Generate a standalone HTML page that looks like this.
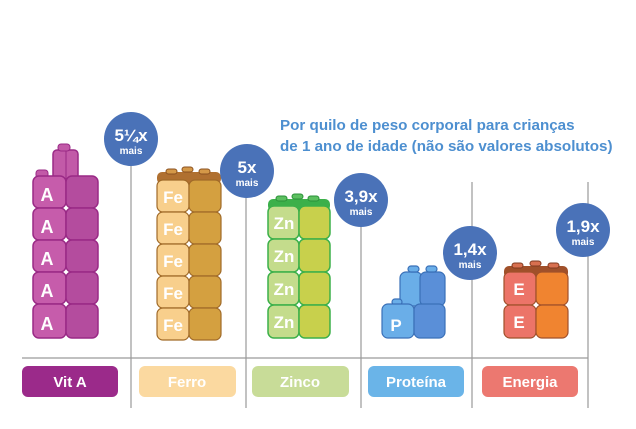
<!DOCTYPE html>
<html><head><meta charset="utf-8"><style>
html,body{margin:0;padding:0;background:#fff}
svg{display:block}
text{font-family:"Liberation Sans",sans-serif;font-weight:bold}
</style></head><body>
<svg width="636" height="429" viewBox="0 0 636 429" xmlns="http://www.w3.org/2000/svg">
<g stroke="#9a9a9a" stroke-width="1.2">
<line x1="22" y1="358" x2="588" y2="358"/>
<line x1="131" y1="165" x2="131" y2="408"/>
<line x1="246" y1="196" x2="246" y2="408"/>
<line x1="361" y1="224" x2="361" y2="408"/>
<line x1="472" y1="182" x2="472" y2="408"/>
<line x1="588" y1="182" x2="588" y2="408"/>
</g>
<g>
<rect x="53" y="150" width="25" height="30" rx="4" fill="#c25aa8" stroke="#9a2a86" stroke-width="1.5"/>
<line x1="66" y1="150" x2="66" y2="180" stroke="#9a2a86"/>
<rect x="58" y="144" width="12" height="7" rx="3" fill="#c25aa8" stroke="#9a2a86"/>
<rect x="36" y="170" width="12" height="8" rx="3" fill="#c25aa8" stroke="#9a2a86"/>
<g stroke="#9a2a86" stroke-width="1.5">
<rect x="33" y="176" width="33" height="32" rx="6" fill="#c65cab"/><rect x="66" y="176" width="32" height="32" rx="6" fill="#b44c9e"/>
<rect x="33" y="208" width="33" height="32" rx="6" fill="#c65cab"/><rect x="66" y="208" width="32" height="32" rx="6" fill="#b44c9e"/>
<rect x="33" y="240" width="33" height="32" rx="6" fill="#c65cab"/><rect x="66" y="240" width="32" height="32" rx="6" fill="#b44c9e"/>
<rect x="33" y="272" width="33" height="32" rx="6" fill="#c65cab"/><rect x="66" y="272" width="32" height="32" rx="6" fill="#b44c9e"/>
<rect x="33" y="304" width="33" height="34" rx="6" fill="#c65cab"/><rect x="66" y="304" width="32" height="34" rx="6" fill="#b44c9e"/>
</g>
<g fill="#fff" font-size="18" text-anchor="middle"><text x="47" y="201">A</text><text x="47" y="233">A</text><text x="47" y="265">A</text><text x="47" y="297">A</text><text x="47" y="330">A</text></g>
</g>
<g>
<rect x="157" y="172" width="64" height="12" rx="5" fill="#b07030"/>
<g fill="#d49848" stroke="#8a5020"><rect x="166" y="169" width="11" height="5" rx="2.5"/><rect x="182" y="167" width="11" height="5" rx="2.5"/><rect x="199" y="169" width="11" height="5" rx="2.5"/></g>
<g stroke="#a06a28" stroke-width="1.2">
<rect x="157" y="180" width="32" height="32" rx="6" fill="#f8cf8c"/><rect x="189" y="180" width="32" height="32" rx="6" fill="#d4a040"/>
<rect x="157" y="212" width="32" height="32" rx="6" fill="#f8cf8c"/><rect x="189" y="212" width="32" height="32" rx="6" fill="#d4a040"/>
<rect x="157" y="244" width="32" height="32" rx="6" fill="#f8cf8c"/><rect x="189" y="244" width="32" height="32" rx="6" fill="#d4a040"/>
<rect x="157" y="276" width="32" height="32" rx="6" fill="#f8cf8c"/><rect x="189" y="276" width="32" height="32" rx="6" fill="#d4a040"/>
<rect x="157" y="308" width="32" height="32" rx="6" fill="#f8cf8c"/><rect x="189" y="308" width="32" height="32" rx="6" fill="#d4a040"/>
</g>
<g fill="#fff" font-size="17" text-anchor="middle"><text x="173" y="203">Fe</text><text x="173" y="235">Fe</text><text x="173" y="267">Fe</text><text x="173" y="299">Fe</text><text x="173" y="331">Fe</text></g>
</g>
<g>
<rect x="268" y="199" width="62" height="12" rx="5" fill="#3cb04a"/>
<g fill="#5cc060" stroke="#2a9038"><rect x="276" y="196" width="11" height="5" rx="2.5"/><rect x="292" y="194" width="11" height="5" rx="2.5"/><rect x="308" y="196" width="11" height="5" rx="2.5"/></g>
<g stroke="#3cb04a" stroke-width="1.5">
<rect x="268" y="206" width="31" height="33" rx="6" fill="#c4dc8c"/><rect x="299" y="206" width="31" height="33" rx="6" fill="#c8d04c"/>
<rect x="268" y="239" width="31" height="33" rx="6" fill="#c4dc8c"/><rect x="299" y="239" width="31" height="33" rx="6" fill="#c8d04c"/>
<rect x="268" y="272" width="31" height="33" rx="6" fill="#c4dc8c"/><rect x="299" y="272" width="31" height="33" rx="6" fill="#c8d04c"/>
<rect x="268" y="305" width="31" height="33" rx="6" fill="#c4dc8c"/><rect x="299" y="305" width="31" height="33" rx="6" fill="#c8d04c"/>
</g>
<g fill="#fff" font-size="17" text-anchor="middle"><text x="284" y="229">Zn</text><text x="284" y="262">Zn</text><text x="284" y="295">Zn</text><text x="284" y="328">Zn</text></g>
</g>
<g stroke="#3a70b8" stroke-width="1.2">
<rect x="400" y="272" width="22" height="34" rx="6" fill="#6aaee8"/><rect x="420" y="272" width="25" height="34" rx="6" fill="#5a8fd8"/>
<rect x="408" y="266" width="11" height="6" rx="3" fill="#6aaee8"/><rect x="426" y="266" width="11" height="6" rx="3" fill="#6aaee8"/>
<rect x="392" y="299" width="10" height="6" rx="3" fill="#6aaee8"/>
<rect x="382" y="304" width="32" height="34" rx="6" fill="#6aaee8"/><rect x="414" y="304" width="31" height="34" rx="6" fill="#5a8fd8"/>
</g>
<text x="396" y="331" fill="#fff" font-size="17" text-anchor="middle">P</text>
<g>
<rect x="504" y="266" width="64" height="12" rx="5" fill="#a0502a"/>
<g fill="#d87050" stroke="#803a20"><rect x="512" y="263" width="11" height="5" rx="2.5"/><rect x="530" y="261" width="11" height="5" rx="2.5"/><rect x="548" y="263" width="11" height="5" rx="2.5"/></g>
<g stroke="#a0502a" stroke-width="1.2">
<rect x="504" y="272" width="32" height="33" rx="6" fill="#ec7468"/><rect x="536" y="272" width="32" height="33" rx="6" fill="#f08430"/>
<rect x="504" y="305" width="32" height="33" rx="6" fill="#ec7468"/><rect x="536" y="305" width="32" height="33" rx="6" fill="#f08430"/>
</g>
<g fill="#fff" font-size="17" text-anchor="middle"><text x="519" y="295">E</text><text x="519" y="328">E</text></g>
</g>
<g fill="#4a72b8">
<circle cx="131" cy="139" r="27"/><circle cx="247" cy="171" r="27"/><circle cx="361" cy="200" r="27"/><circle cx="470" cy="253" r="27"/><circle cx="583" cy="230" r="27"/>
</g>
<g fill="#fff" text-anchor="middle">
<text x="131" y="141" font-size="17">5¼x</text><text x="131" y="154" font-size="10">mais</text>
<text x="247" y="173" font-size="17">5x</text><text x="247" y="186" font-size="10">mais</text>
<text x="361" y="202" font-size="17">3,9x</text><text x="361" y="215" font-size="10">mais</text>
<text x="470" y="255" font-size="17">1,4x</text><text x="470" y="268" font-size="10">mais</text>
<text x="583" y="232" font-size="17">1,9x</text><text x="583" y="245" font-size="10">mais</text>
</g>
<g fill="#4d8fd0" font-size="15.2">
<text x="280" y="130">Por quilo de peso corporal para crianças</text>
<text x="280" y="151">de 1 ano de idade (não são valores absolutos)</text>
</g>
<rect x="22" y="366" width="96" height="31" rx="6" fill="#9b2a8a"/>
<rect x="139" y="366" width="97" height="31" rx="6" fill="#fbd9a0"/>
<rect x="252" y="366" width="97" height="31" rx="6" fill="#c8dc98"/>
<rect x="368" y="366" width="96" height="31" rx="6" fill="#6ab4e8"/>
<rect x="482" y="366" width="96" height="31" rx="6" fill="#ec7870"/>
<g fill="#fff" font-size="15" text-anchor="middle">
<text x="70" y="387">Vit A</text><text x="187" y="387">Ferro</text><text x="300" y="387">Zinco</text><text x="416" y="387">Proteína</text><text x="530" y="387">Energia</text>
</g>
</svg>
</body></html>
